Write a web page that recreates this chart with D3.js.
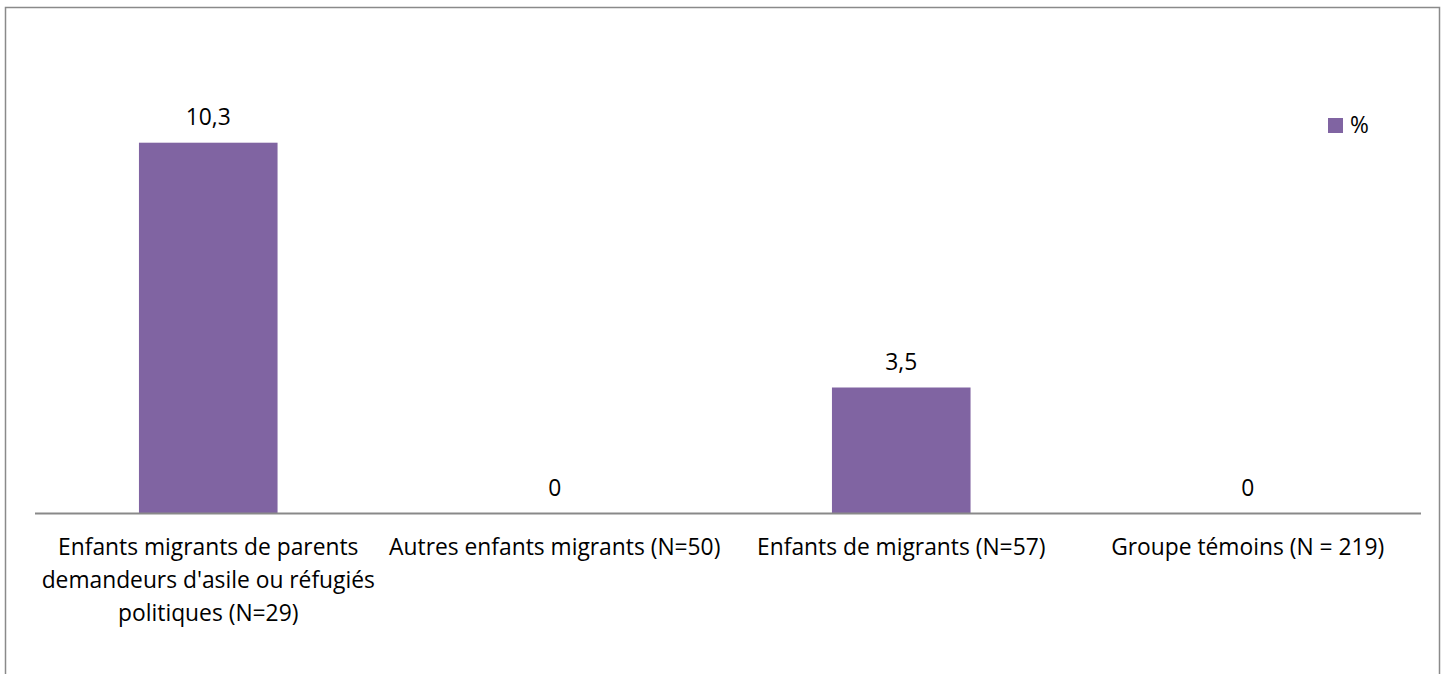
<!DOCTYPE html>
<html><head><meta charset="utf-8">
<script src="https://cdn.jsdelivr.net/npm/d3@7"></script>
<style>
html,body{margin:0;padding:0;background:#fff;}
svg{display:block;}
text{font-family:"Open Sans","Noto Sans",sans-serif;fill:#000;}
</style></head>
<body>
<svg id="chart" width="1442" height="674"></svg>
<script>
const categories = [
  "Enfants migrants de parents demandeurs d'asile ou réfugiés politiques (N=29)",
  "Autres enfants migrants (N=50)",
  "Enfants de migrants (N=57)",
  "Groupe témoins (N = 219)"
];
const values = [10.3, 0, 3.5, 0];
const valueLabels = ["10,3", "0", "3,5", "0"];
const seriesName = "%";

const svg = d3.select("#chart");
const fontSize = 22.8;

// chart frame
svg.append("rect").attr("x", 5.5).attr("y", 7.5).attr("width", 1434).attr("height", 700)
  .attr("fill", "#fff").attr("stroke", "#8a8a8a").attr("stroke-width", 1.5);

const plot = {left: 35, right: 1421, top: 81.5, bottom: 513.5};
const x = d3.scaleBand().domain(categories).range([plot.left, plot.right]).paddingInner(0.6).paddingOuter(0.3);
const y = d3.scaleLinear().domain([0, 12]).range([plot.bottom, plot.top]);

const g = svg.append("g");
g.selectAll("rect.bar").data(values).join("rect").attr("class","bar")
  .attr("x", (d,i)=>x(categories[i]))
  .attr("width", x.bandwidth())
  .attr("y", d=>y(d))
  .attr("height", d=>y(0)-y(d))
  .attr("fill", "#8064A2");

// value labels
g.selectAll("text.val").data(values).join("text").attr("class","val")
  .attr("x", (d,i)=>x(categories[i]) + x.bandwidth()/2)
  .attr("y", d=>y(d) - 18)
  .attr("text-anchor","middle")
  .attr("font-size", fontSize)
  .text((d,i)=>valueLabels[i]);

// x axis
const xAxis = d3.axisBottom(x).tickSize(0).tickPadding(0);
const ax = svg.append("g").attr("transform", `translate(0,${plot.bottom})`).call(xAxis);
ax.select(".domain").attr("stroke", "#898989").attr("stroke-width", 2).attr("d", `M${plot.left},0H${plot.right}`);
const step = x.step();
ax.selectAll(".tick text").attr("font-size", fontSize).attr("fill","#000")
  .style("font-family", '"Open Sans","Noto Sans",sans-serif')
  .each(function(d){
    const t = d3.select(this);
    const words = d.split(" ");
    t.text(null);
    let lines = [], cur = [];
    const tmp = t.append("tspan");
    words.forEach(w=>{
      cur.push(w);
      tmp.text(cur.join(" "));
      if (tmp.node().getComputedTextLength() > step + 4 && cur.length > 1) {
        cur.pop(); lines.push(cur.join(" ")); cur = [w];
      }
    });
    lines.push(cur.join(" "));
    tmp.remove();
    lines.forEach((l,i)=>{
      t.append("tspan").attr("x", 0).attr("y", 41.5 + i*33).text(l);
    });
  })
  .attr("dy", null);

// legend
const lg = svg.append("g").attr("transform", "translate(1328,118)");
lg.append("rect").attr("width", 15).attr("height", 15).attr("fill", "#8064A2");
lg.append("text").attr("x", 22).attr("y", 7.5).attr("dy","0.35em").attr("font-size", fontSize).text(seriesName);
</script>
</body></html>
